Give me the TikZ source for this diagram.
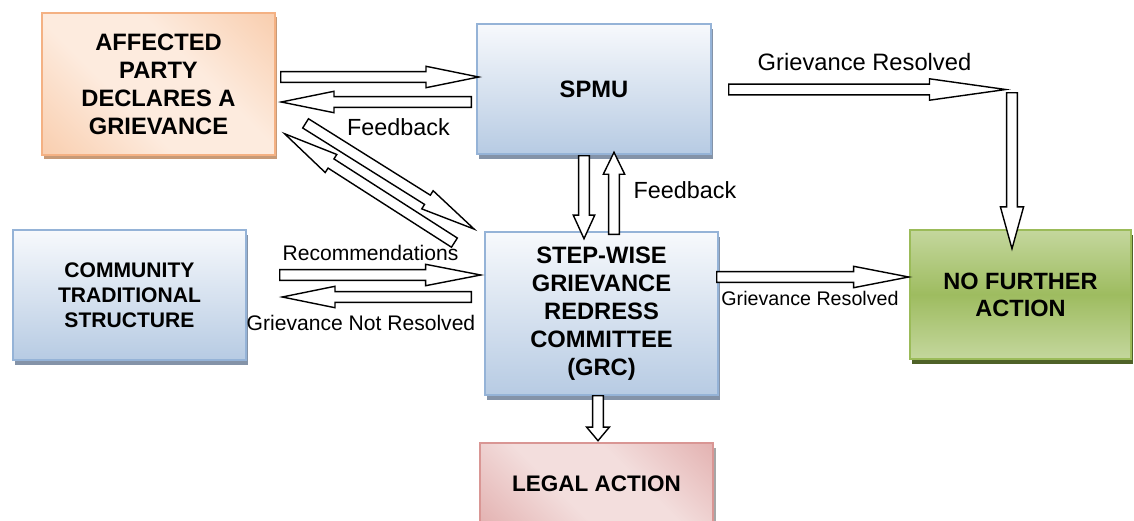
\documentclass[tikz,border=0pt]{standalone}
\usepackage{fontspec}
\setmainfont{Liberation Sans}
\usepackage{tikz}
\usetikzlibrary{calc, shapes.arrows, shadows}

\definecolor{blueTop}{HTML}{F7F9FC}
\definecolor{blueBot}{HTML}{B7CBE3}
\definecolor{blueEdge}{HTML}{95B3D7}
\definecolor{blueShadow}{HTML}{8493A8}
\definecolor{orDark}{HTML}{F6BD93}
\definecolor{orLight}{HTML}{FDEBDE}
\definecolor{orEdge}{HTML}{F4B183}
\definecolor{orShadow}{HTML}{C79A77}
\definecolor{grLight}{HTML}{C4D79D}
\definecolor{grDark}{HTML}{9EBC60}
\definecolor{grEdge}{HTML}{9BBB59}
\definecolor{grShadow}{HTML}{4F6228}
\definecolor{rdLight}{HTML}{F3DEDD}
\definecolor{rdDark}{HTML}{DA9998}
\definecolor{rdEdge}{HTML}{D99694}
\definecolor{rdShadow}{HTML}{A6A6A6}

\pgfdeclareverticalshading{orangeshade}{100bp}{color(0bp)=(orDark); color(40bp)=(orLight);
    color(60bp)=(orLight); color(100bp)=(orDark)}
\pgfdeclareverticalshading{redshade}{100bp}{color(0bp)=(rdDark); color(40bp)=(rdLight);
    color(60bp)=(rdLight); color(100bp)=(rdDark)}

% block arrow from #2 to #3
\newcommand{\blockarrow}[3][]{%
  \path let \p1 = ($(#3)-(#2)$), \n1 = {veclen(\x1,\y1)} in
    (#2) -- node[ArrowStyle, pos=0, anchor=tail, sloped, allow upside down,
                 minimum height=\n1, #1] {} (#3);}

\begin{document}
\begin{tikzpicture}[x=0.02cm, y=-0.02cm]
    \tikzset{BoxStyle/.style = {draw, line width=1pt, align=center, inner sep=0,
                font=\bfseries\fontsize{13.5}{15.9}\selectfont},
             BlueBox/.style = {BoxStyle, draw=blueEdge, top color=blueTop, bottom color=blueBot,
                drop shadow={shadow xshift=1.4pt, shadow yshift=-2.8pt, fill=blueShadow, opacity=1}},
             OrangeBox/.style = {BoxStyle, draw=orEdge, shading=orangeshade, shading angle=-45,
                drop shadow={shadow xshift=1.4pt, shadow yshift=-2.4pt, fill=orShadow, opacity=1}},
             GreenBox/.style = {BoxStyle, draw=grEdge, top color=grLight, bottom color=grLight,
                middle color=grDark,
                drop shadow={shadow xshift=1.4pt, shadow yshift=-2.8pt, fill=grShadow, opacity=1}},
             RedBox/.style = {BoxStyle, draw=rdEdge, shading=redshade, shading angle=-45,
                drop shadow={shadow xshift=1.6pt, shadow yshift=-2.8pt, fill=rdShadow, opacity=1}},
             ArrowStyle/.style = {single arrow, draw, fill=white, line width=0.8pt,
                inner sep=0, inner ysep=2.7pt, single arrow head extend=3pt,
                single arrow tip angle=23},
             LabelStyle/.style = {inner sep=0, font=\fontsize{13.3}{16}\selectfont}}

    \useasboundingbox (0,0) rectangle (1134,521);

    \node[OrangeBox, minimum width=4.66cm, minimum height=2.84cm] at (158.5,84) (party)
        {AFFECTED\\PARTY\\DECLARES A\\GRIEVANCE};
    \node[BlueBox, minimum width=4.68cm, minimum height=2.6cm] at (594,89) (spmu) {SPMU};
    \node[BlueBox, minimum width=4.66cm, minimum height=2.6cm,
          font=\bfseries\fontsize{12}{14.2}\selectfont] at (129.5,295) (community)
        {COMMUNITY\\TRADITIONAL\\STRUCTURE};
    \node[BlueBox, minimum width=4.66cm, minimum height=3.26cm] at (601.5,313.5) (grc)
        {STEP-WISE\\GRIEVANCE\\REDRESS\\COMMITTEE\\(GRC)};
    \node[GreenBox, minimum width=4.42cm, minimum height=2.58cm,
          font=\bfseries\fontsize{13.4}{15.3}\selectfont] at (1020.5,294.5) (nfa)
        {NO FURTHER\\ACTION};
    \node[RedBox, minimum width=4.66cm, minimum height=1.62cm,
          font=\bfseries\fontsize{12.8}{15}\selectfont] at (596.5,483.5) (legal) {LEGAL ACTION};

    % arrow ends
    \coordinate (p1) at (280,77);   \coordinate (s1) at (478,77);
    \coordinate (s2) at (472,102);  \coordinate (p2) at (282,102);
    \coordinate (p3) at (305,123);  \coordinate (g3) at (474,229);
    \coordinate (g4) at (455,243);  \coordinate (p4) at (285,134);
    \coordinate (s5) at (584,155);  \coordinate (g5) at (584,238);
    \coordinate (g6) at (614,235);  \coordinate (s6) at (614,153);
    \coordinate (s7) at (728,89.5); \coordinate (t7) at (1005,89.5);
    \coordinate (t8) at (1012,92);  \coordinate (n8) at (1012,248);
    \coordinate (c9) at (279,275);  \coordinate (g9) at (480,275);
    \coordinate (g10) at (472,297); \coordinate (c10) at (283,297);
    \coordinate (g11) at (716,277); \coordinate (n11) at (908,277);
    \coordinate (g12) at (598,395); \coordinate (l12) at (598,440);

    \blockarrow{p1}{s1}
    \blockarrow{s2}{p2}
    \blockarrow[single arrow tip angle=22]{p3}{g3}
    \blockarrow[single arrow tip angle=22]{g4}{p4}
    \blockarrow[single arrow tip angle=49]{s5}{g5}
    \blockarrow[single arrow tip angle=52]{g6}{s6}
    \blockarrow[single arrow tip angle=16]{s7}{t7}
    \blockarrow[single arrow tip angle=31, single arrow head extend=3.5pt]{t8}{n8}
    \blockarrow[single arrow tip angle=22]{c9}{g9}
    \blockarrow{g10}{c10}
    \blockarrow[single arrow tip angle=22]{g11}{n11}
    \blockarrow[single arrow tip angle=80, single arrow head extend=3.4pt]{g12}{l12}

    \node[LabelStyle] at (398.5,127) (fb1) {Feedback};
    \node[LabelStyle] at (685,190) (fb2) {Feedback};
    \node[LabelStyle, font=\fontsize{13.5}{16}\selectfont] at (864.5,62) (res1) {Grievance Resolved};
    \node[LabelStyle, font=\fontsize{12}{14}\selectfont] at (370.5,253) (rec) {Recommendations};
    \node[LabelStyle, font=\fontsize{12}{14}\selectfont] at (361,323) (notres) {Grievance Not Resolved};
    \node[LabelStyle, font=\fontsize{11.2}{13}\selectfont] at (810,298) (res2) {Grievance Resolved};
\end{tikzpicture}
\end{document}
